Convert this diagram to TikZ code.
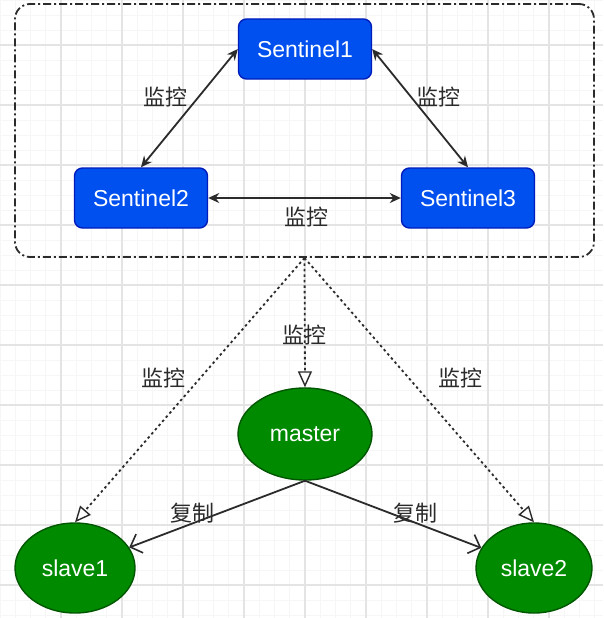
\documentclass[tikz,border=0pt]{standalone}
\usepackage{fontspec}
\setmainfont{Liberation Sans}
\newfontfamily\cjk{Noto Sans CJK SC}
\usetikzlibrary{arrows.meta,shapes.geometric}
\definecolor{sentfill}{HTML}{0050EF}
\definecolor{sentdraw}{HTML}{001DBC}
\definecolor{grnfill}{HTML}{008A00}
\definecolor{grndraw}{HTML}{005700}
\definecolor{ink}{HTML}{2B2B2B}
\definecolor{gridmajor}{HTML}{E4E4E4}
\definecolor{gridminor}{HTML}{F6F6F6}
\tikzset{
  sentbox/.style={draw=sentdraw, fill=sentfill, line width=1.4pt, rounded corners=8pt,
    minimum width=133pt, minimum height=60pt, text=white, font=\fontsize{23}{25}\selectfont},
  redisnode/.style={ellipse, draw=grndraw, fill=grnfill, line width=1.4pt, text=white,
    font=\fontsize{23}{25}\selectfont, inner sep=0pt},
  lbl/.style={text=ink, font=\cjk\fontsize{22}{24}\selectfont, inner sep=0pt},
  monitor/.style={draw=ink, line width=1.8pt, {Stealth[length=11pt,width=10pt]}-{Stealth[length=11pt,width=10pt]}},
  watchline/.style={draw=ink, line width=1.8pt, dash pattern=on 2.5pt off 3pt,
    -{Triangle[open,length=16pt,width=14pt,fill=white,line width=1.4pt]}},
  copyline/.style={draw=ink, line width=1.8pt, -{Straight Barb[length=10pt,width=20pt,line width=1.6pt]}},
  groupbox/.style={draw=ink, line width=1.8pt, rounded corners=15pt,
    dash pattern=on 8pt off 3pt on 2pt off 3pt}
}
\begin{document}
\begin{tikzpicture}[x=1pt,y=-1pt]
\useasboundingbox (0,0) rectangle (603,618);
\fill[white] (0,0) rectangle (603,618);
% background grid
\foreach \i in {0,...,40} {\draw[gridminor, line width=0.6pt] ({\i*15.25},0) -- ({\i*15.25},618);}
\foreach \j in {0,...,42} {\draw[gridminor, line width=0.6pt] (0,{\j*15}) -- (603,{\j*15});}
\foreach \i in {1,...,9} {\draw[gridmajor, line width=1.2pt] ({\i*61},0) -- ({\i*61},618);}
\foreach \j in {0,...,9} {\draw[gridmajor, line width=1.2pt] (0,{45+\j*60}) -- (603,{45+\j*60});}

% group container
\node[groupbox, minimum width=579pt, minimum height=253pt] (grp) at (304.5,130.5) {};

% sentinels
\node[sentbox] (s1) at (305,49) {Sentinel1};
\node[sentbox] (s2) at (141,198) {Sentinel2};
\node[sentbox] (s3) at (468,198) {Sentinel3};

\draw[monitor] (s1.west) -- (s2.north);
\draw[monitor] (s1.east) -- (s3.north);
\draw[monitor] (s2.east) -- (s3.west);

\node[lbl] (l1) at (165,97) {监控};
\node[lbl] (l2) at (438,97) {监控};
\node[lbl] (l3) at (306,217) {监控};

% redis nodes
\node[redisnode, minimum width=134pt, minimum height=92pt] (master) at (305,434) {master};
\node[redisnode, minimum width=120pt, minimum height=90pt] (slave1) at (75,568) {slave1};
\node[redisnode, minimum width=116pt, minimum height=90pt] (slave2) at (534,568) {slave2};

\draw[watchline] (grp.south) -- (master.north);
\draw[watchline] (grp.south) -- (slave1.north);
\draw[watchline] (grp.south) -- (slave2.north);

\node[lbl] (l4) at (304,335) {监控};
\node[lbl] (l5) at (163,378) {监控};
\node[lbl] (l6) at (460,378) {监控};

\draw[copyline] (master.south) -- (slave1);
\draw[copyline] (master.south) -- (slave2);

\node[lbl] (c1) at (192,513) {复制};
\node[lbl] (c2) at (415,513) {复制};
\end{tikzpicture}
\end{document}
